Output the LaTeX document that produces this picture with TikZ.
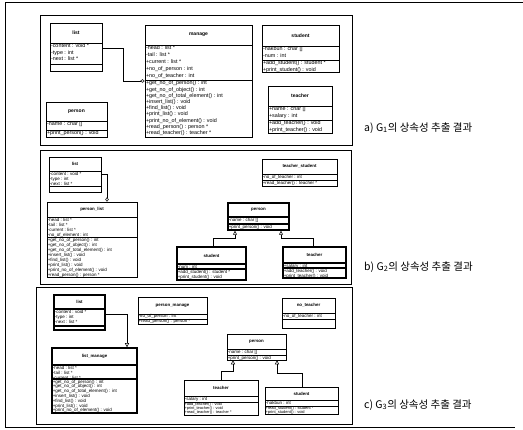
\documentclass[tikz,border=0pt]{standalone}
\usepackage{fontspec}
\setmainfont{Liberation Sans}
\newfontfamily\krfont{Noto Sans CJK KR}
\usetikzlibrary{fit,calc,arrows.meta}

% #1 extra style, #2 id, #3 x1, #4 y1, #5 x2, #6 y2, #7 divider 1, #8 divider 2, #9 class name
\newcommand\umlcls[9][]{%
  \node[fit={(#3,#4)(#5,#6)},inner sep=0pt,draw,clsline,#1] (#2) {};
  \draw[clsline,#1] (#3,#7) -- (#5,#7);
  \draw[clsline,#1] (#3,#8) -- (#5,#8);
  \node[clsname] (#2-n) at ($(#3,#4)!.5!(#5,#7)$) {#9};
}

\begin{document}
\begin{tikzpicture}[x=1pt,y=-1pt,
  clsline/.style={line width=0.55pt},
  thickbox/.style={line width=1.5pt},
  panel/.style={draw,line width=0.7pt},
  outer/.style={line width=0.6pt},
  clsname/.style={font=\bfseries\fontsize{5}{6}\selectfont,inner sep=0pt},
  mem/.style={anchor=north west,align=left,inner sep=0.8pt,font=\fontsize{5.4}{6.2}\selectfont},
  agg/.style={-{Diamond[open,length=4.5pt,width=3.5pt]},line width=0.5pt},
  inh/.style={-{Triangle[open,length=4pt,width=4pt]},line width=0.5pt},
  caption/.style={anchor=west,inner sep=0pt,font=\krfont\fontsize{10.5}{12}\selectfont}]
\useasboundingbox (0,0) rectangle (523,430);

% outer frame
\draw[outer] (523,2) -- (5,2) -- (5,427) -- (515,427);

% panels
\node[panel,fit={(40,15)(352,145)},inner sep=0pt] (pa) {};
\node[panel,fit={(40,150)(351,284)},inner sep=0pt] (pb) {};
\node[panel,fit={(36,287)(352,424)},inner sep=0pt] (pc) {};

% ================= panel a =================
\umlcls{lista}{50}{23}{102}{71}{43}{64}{list}
\node[mem] (lista-a) at (50,43) {-content : void *\\-type : int\\-next : list *};

\umlcls{managea}{145}{25}{252}{137}{45}{80}{manage}
\node[mem,font=\fontsize{5.4}{6.8}\selectfont] (managea-a) at (145,45) {-head : list *\\-tail : list *\\+current : list *\\+no\_of\_person : int\\+no\_of\_teacher : int};
\node[mem] (managea-o) at (145,80) {+get\_no\_of\_person() : int\\+get\_no\_of\_object() : int\\+get\_no\_of\_total\_element() : int\\+insert\_list() : void\\+find\_list() : void\\+print\_list() : void\\+print\_no\_of\_element() : void\\+read\_person() : person *\\+read\_teacher() : teacher *};

\umlcls{persona}{46}{102}{107}{137}{121}{130}{person}
\node[mem] (persona-a) at (46,121) {-name : char []};
\node[mem] (persona-o) at (46,130) {+print\_person() : void};

\umlcls{studenta}{262}{25}{339}{72}{46}{60}{student}
\node[mem] (studenta-a) at (262,46) {-hakbun : char []\\-num : int};
\node[mem] (studenta-o) at (262,60) {+add\_student() : student *\\+print\_student() : void};

\umlcls{teachera}{268}{86}{332}{133}{106}{120}{teacher}
\node[mem] (teachera-a) at (268,106) {+name : char []\\+salary : int};
\node[mem] (teachera-o) at (268,120) {+add\_teacher() : void\\+print\_teacher() : void};

\draw[agg] (lista.east |- 0,48) -- (123,48) -- (123,81) -- (managea.west |- 0,81);

\node[caption] (capa) at (364,128) {a) G\textsubscript{1}의 상속성 추출 결과};

% ================= panel b =================
\tikzset{clsname/.style={font=\bfseries\fontsize{4.4}{5}\selectfont,inner sep=0pt},
  mem/.style={anchor=north west,align=left,inner sep=0.6pt,font=\fontsize{4.5}{5}\selectfont}}

\umlcls{listb}{49}{157}{101}{192}{171}{186}{list}
\node[mem] (listb-a) at (49,171) {-content : void *\\-type : int\\-next : list *};

\umlcls{plistb}{47}{202}{137}{277}{217}{237}{person\_list}
\node[mem] (plistb-a) at (47,217) {-head : list *\\-tail : list *\\-current : list *\\-no\_of\_element : int};
\node[mem] (plistb-o) at (47,237) {+get\_no\_of\_person() : int\\+get\_no\_of\_object() : int\\+get\_no\_of\_total\_element() : int\\+insert\_list() : void\\+find\_list() : void\\+print\_list() : void\\+print\_no\_of\_element() : void\\+read\_person() : person *};

\umlcls{tsb}{262}{159}{337}{186}{174}{180}{teacher\_student}
\node[mem] (tsb-a) at (262,174) {-no\_of\_teacher : int};
\node[mem] (tsb-o) at (262,180) {+read\_teacher() : teacher *};

\umlcls[thickbox]{personb}{228}{203}{289}{230}{217}{224}{person}
\node[mem] (personb-a) at (228,217) {-name : char []};
\node[mem] (personb-o) at (228,224) {+print\_person() : void};

\umlcls[thickbox]{studentb}{177}{247}{246}{280}{264}{269}{student}
\node[mem] (studentb-a) at (177,264) {-num : int};
\node[mem] (studentb-o) at (177,269) {+add\_student() : student *\\+print\_student() : void};

\umlcls[thickbox]{teacherb}{283}{247}{346}{278}{263}{268}{teacher}
\node[mem] (teacherb-a) at (283,263) {+salary : int};
\node[mem] (teacherb-o) at (283,268) {+add\_teacher() : void\\+print\_teacher() : void};

\draw[agg] (listb.east |- 0,174) -- (107,174) -- (plistb.north -| 107,0);
\draw[inh] (studentb.north -| 213,0) -- (213,238) -- (235,238) -- (personb.south -| 235,0);
\draw[inh] (teacherb.north -| 313,0) -- (313,238) -- (281,238) -- (personb.south -| 281,0);

\node[caption] (capb) at (364,267) {b) G\textsubscript{2}의 상속성 추출 결과};

% ================= panel c =================
\umlcls[thickbox]{listc}{54}{295}{105}{330}{309}{326}{list}
\node[mem] (listc-a) at (54,309) {-content : void *\\-type : int\\-next : list *};

\umlcls[thickbox]{lmc}{52}{348}{137}{413}{365}{379}{list\_manage}
\node[mem] (lmc-a) at (52,365) {-head : list *\\-tail : list *\\-current : list *};
\node[mem,font=\fontsize{4.5}{4.8}\selectfont] (lmc-o) at (52,379) {+get\_no\_of\_person() : int\\+get\_no\_of\_object() : int\\+get\_no\_of\_total\_element() : int\\+insert\_list() : void\\+find\_list() : void\\+print\_list() : void\\+print\_no\_of\_element() : void};

\umlcls{pmc}{138}{297}{207}{324}{314}{319}{person\_manage}
\node[mem,inner sep=0.3pt] (pmc-a) at (138,314) {-no\_of\_person : int};
\node[mem,inner sep=0.3pt] (pmc-o) at (138,319) {+read\_person() : person *};

\umlcls{ntc}{282}{298}{335}{328}{313}{319}{no\_teacher}
\node[mem] (ntc-a) at (282,313) {-no\_of\_teacher : int};

\umlcls{personc}{227}{334}{286}{360}{349}{355}{person}
\node[mem] (personc-a) at (227,349) {-name : char []};
\node[mem] (personc-o) at (227,355) {+print\_person() : void};

\umlcls{teacherc}{184}{380}{258}{415}{396}{402}{teacher}
\node[mem] (teacherc-a) at (184,396) {-salary : int};
\node[mem,inner sep=0.3pt,font=\fontsize{3.9}{4.2}\selectfont] (teacherc-o) at (184,402) {+add\_teacher() : void\\+print\_teacher() : void\\+read\_teacher() : teacher *};

\umlcls{studentc}{265}{387}{338}{414}{400}{406}{student}
\node[mem] (studentc-a) at (265,400) {-hakbun : int};
\node[mem,inner sep=0.3pt,font=\fontsize{4}{4.2}\selectfont] (studentc-o) at (265,406) {+read\_student() : student *\\+print\_student() : void};

\draw[inh] (listc.east |- 0,314) -- (127,314) -- (lmc.north -| 127,0);
\draw[inh] (teacherc.north -| 221,0) -- (221,371) -- (233,371) -- (personc.south -| 233,0);
\draw[inh] (studentc.north -| 302,0) -- (302,373) -- (277,373) -- (personc.south -| 277,0);

\node[caption] (capc) at (364,405) {c) G\textsubscript{3}의 상속성 추출 결과};
\end{tikzpicture}
\end{document}
